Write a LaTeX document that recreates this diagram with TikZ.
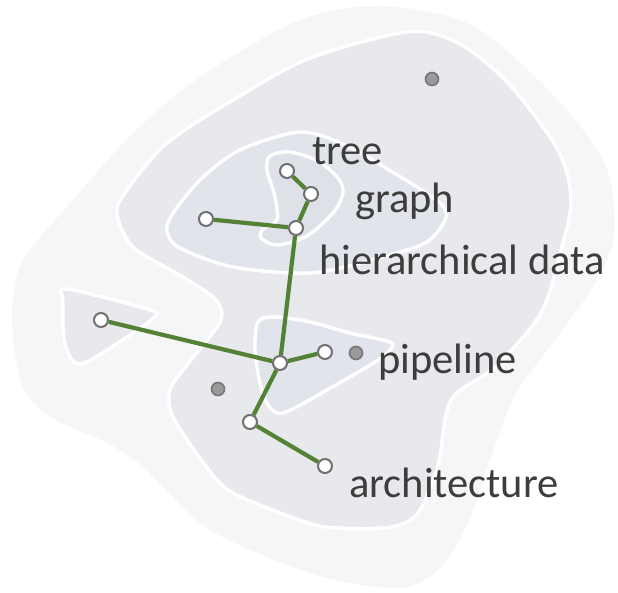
\documentclass[tikz,border=0pt]{standalone}
\usepackage{fontspec}
\setmainfont{Carlito}
\definecolor{levelone}{HTML}{F5F6F8}
\definecolor{leveltwo}{HTML}{E7E9ED}
\definecolor{levelthree}{HTML}{E1E4EA}
\definecolor{levelfour}{HTML}{DEE2E8}
\definecolor{nodegray}{HTML}{707070}
\definecolor{dotfill}{HTML}{9A9A9A}
\definecolor{dotrim}{HTML}{767676}
\definecolor{linkgreen}{HTML}{548235}
\definecolor{labelgray}{HTML}{3D3D3D}
\begin{document}
\begin{tikzpicture}[x=1pt, y=-1pt,
    contour/.style={draw=white, line width=3.4pt},
    item/.style={circle, draw=nodegray, fill=white, line width=2pt, minimum size=14pt, inner sep=0pt},
    probe/.style={circle, draw=dotrim, fill=dotfill, line width=1.6pt, minimum size=13pt, inner sep=0pt},
    link/.style={draw=linkgreen, line width=4.2pt},
    lbl/.style={anchor=base west, inner sep=0pt, text=labelgray, font=\fontsize{42.5}{50}\selectfont}]
    \useasboundingbox (0,0) rectangle (618,593);
    % density levels
    \fill[levelone] plot[smooth cycle] coordinates {(385,6) (475,27) (558,100) (606,167) (614,235) (596,282) (555,340) (515,395) (491,457) (468,523) (441,567) (408,587) (360,585) (310,573) (250,550) (200,523) (143,467) (107,443) (50,417) (22,385) (12,320) (22,262) (73,200) (133,133) (200,77) (300,20)};
    \filldraw[leveltwo, contour] plot[smooth cycle] coordinates {(408,32) (458,43) (508,83) (558,150) (571,200) (561,250) (541,313) (495,367) (451,400) (438,465) (418,513) (391,527) (340,528) (308,523) (233,493) (205,465) (173,417) (170,390) (187,365) (220,322) (216,300) (183,277) (133,247) (117,213) (127,190) (167,143) (233,100) (310,58)};
    \filldraw[leveltwo, contour] plot[smooth cycle] coordinates {(67,289) (150,310) (153,318) (133,333) (87,362) (72,360) (64,338) (63,300)};
    \filldraw[levelthree, contour] plot[smooth cycle] coordinates {(300,132) (345,145) (394,173) (440,203) (445,220) (425,243) (375,259) (310,273) (233,267) (180,248) (167,232) (172,215) (200,180) (240,150)};
    \filldraw[levelfour, contour] plot[smooth cycle] coordinates {(270,156) (290,152) (318,161) (338,178) (343,193) (333,213) (307,236) (277,245) (261,238) (263,229) (277,220) (275,197) (267,170)};
    \filldraw[levelthree, contour] plot[smooth cycle] coordinates {(258,322) (275,317) (310,322) (350,333) (390,342) (390,350) (375,362) (327,390) (283,413) (268,405) (260,383) (255,350)};
    % probes
    \node[probe] (probeTop) at (432,79) {};
    \node[probe] (probePipe) at (356,353) {};
    \node[probe] (probeLow) at (218,389) {};
    % tree nodes
    \node[item] (treeTop) at (287,171) {};
    \node[item] (treeMid) at (311,194) {};
    \node[item] (hierLeft) at (206,219) {};
    \node[item] (hierRoot) at (296,228) {};
    \node[item] (outlier) at (101,320) {};
    \node[item] (hub) at (280,363) {};
    \node[item] (pipeNode) at (325,352) {};
    \node[item] (archMid) at (250,422) {};
    \node[item] (archLeaf) at (325,466) {};
    \draw[link] (treeTop) -- (treeMid);
    \draw[link] (treeMid) -- (hierRoot);
    \draw[link] (hierLeft) -- (hierRoot);
    \draw[link] (hierRoot) -- (hub);
    \draw[link] (outlier) -- (hub);
    \draw[link] (hub) -- (pipeNode);
    \draw[link] (hub) -- (archMid);
    \draw[link] (archMid) -- (archLeaf);
    % labels
    \node[lbl] (treeLbl) at (312,165) {tree};
    \node[lbl] (graphLbl) at (355,213) {graph};
    \node[lbl] (hierLbl) at (319,275) {hierarchical data};
    \node[lbl] (pipeLbl) at (378,373) {pipeline};
    \node[lbl] (archLbl) at (349,497) {architecture};
\end{tikzpicture}
\end{document}
